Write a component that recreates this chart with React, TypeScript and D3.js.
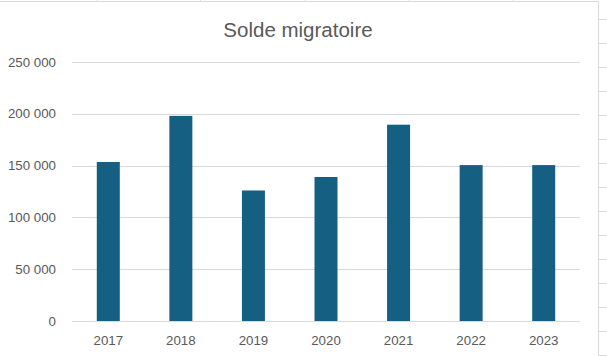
import React from "react";
import * as d3 from "d3";

const years = ["2017", "2018", "2019", "2020", "2021", "2022", "2023"];
const values = [153500, 198000, 126000, 139000, 189500, 150500, 150500];
const yTicks = [0, 50000, 100000, 150000, 200000, 250000];
const title = "Solde migratoire";

const W = 607;
const H = 356;

export default function App() {
  const x = d3.scaleBand<string>().domain(years).range([72, 580]).paddingInner(0.683).paddingOuter(0.3415);
  const y = d3.scaleLinear().domain([0, 250000]).range([321, 62]);
  const fmt = (v: number) => d3.format(",")(v).replace(/,/g, " ");
  const rowLines = d3.range(19, 360, 24);
  const colLines = [97, 200, 305, 409, 513];
  const font = "'Liberation Sans', Arial, sans-serif";
  return (
    <svg width={W} height={H} style={{ position: "absolute", left: 0, top: 0, background: "#fff" }}>
      <rect x={0} y={0} width={W} height={H} fill="#fff" />
      {colLines.map((cx) => (
        <line key={cx} x1={cx + 0.5} x2={cx + 0.5} y1={0} y2={1} stroke="#e0e0e0" />
      ))}
      {rowLines.map((ry) => (
        <line key={ry} x1={599} x2={W} y1={ry + 0.5} y2={ry + 0.5} stroke="#d9d9d9" />
      ))}
      <line x1={0} x2={599} y1={1.5} y2={1.5} stroke="#d9d9d9" />
      <line x1={598.5} x2={598.5} y1={1} y2={H} stroke="#d9d9d9" />
      <text x={298} y={37} textAnchor="middle" fontFamily={font} fontSize={20.5} fill="#595959">
        {title}
      </text>
      {yTicks.map((t) => (
        <g key={t}>
          <line x1={72} x2={580} y1={Math.round(y(t)) + 0.5} y2={Math.round(y(t)) + 0.5} stroke="#d9d9d9" />
          <text x={56} y={y(t)} dy="0.35em" textAnchor="end" fontFamily={font} fontSize={13.3} fill="#595959">
            {fmt(t)}
          </text>
        </g>
      ))}
      {years.map((yr, i) => (
        <rect key={yr} x={x(yr)} y={y(values[i])} width={x.bandwidth()} height={y(0) - y(values[i])} fill="#156082" />
      ))}
      {years.map((yr) => (
        <text key={yr} x={(x(yr) as number) + x.bandwidth() / 2} y={345} textAnchor="middle" fontFamily={font} fontSize={13.3} fill="#595959">
          {yr}
        </text>
      ))}
    </svg>
  );
}
